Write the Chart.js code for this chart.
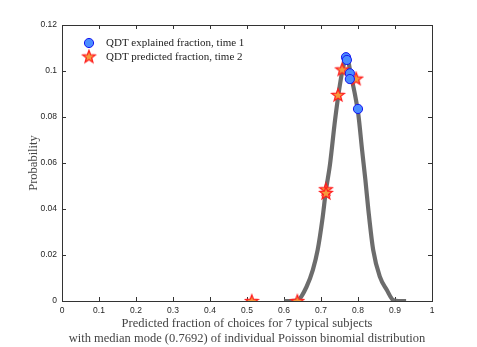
<!DOCTYPE html>
<html>
<head>
<meta charset="utf-8">
<script src="https://cdn.jsdelivr.net/npm/chart.js@4/dist/chart.umd.min.js"></script>
<style>
html,body{margin:0;padding:0;background:#fff;}
#c{display:block;}
</style>
</head>
<body>
<canvas id="c" width="477" height="347"></canvas>
<script>
// ---- data ----
const curveX = [0.60,0.62,0.638,0.661,0.678,0.691,0.7035,0.7135,0.724,0.738,0.751,0.759,0.7695,0.781,0.792,0.801,0.811,0.820,0.828,0.841,0.859,0.878,0.895,0.91,0.93];
const curveY = [0,0,0.0004,0.0062,0.0135,0.0222,0.0352,0.0483,0.059,0.0787,0.0939,0.101,0.1065,0.098,0.0896,0.081,0.0657,0.0526,0.0396,0.0222,0.0106,0.0048,0.0004,0,0];
const explainedX = [0.7676,0.770,0.778,0.778,0.800];
const explainedY = [0.106,0.1048,0.099,0.0965,0.0835];
const predictedX = [0.757,0.795,0.746,0.7135,0.7135,0.513,0.636];
const predictedY = [0.1007,0.0967,0.0896,0.0486,0.047,0,0];
const xTicks = [0,0.1,0.2,0.3,0.4,0.5,0.6,0.7,0.8,0.9,1];
const yTicks = [0,0.02,0.04,0.06,0.08,0.1,0.12];
const seriesLabels = ['QDT explained fraction, time 1','QDT predicted fraction, time 2'];
const xTitle = ['Predicted fraction of choices for 7 typical subjects','with median mode (0.7692) of individual Poisson binomial distribution'];
const yTitle = 'Probability';

const pts = (xs, ys) => xs.map((x, i) => ({x: x, y: ys[i]}));

// star marker image
function makeStar() {
  const s = 16, c = document.createElement('canvas');
  c.width = s; c.height = s;
  const g = c.getContext('2d');
  const cx = s/2, cy = s/2 + 0.5, R = 6.6, r = 2.8;
  g.beginPath();
  for (let i = 0; i < 10; i++) {
    const a = -Math.PI/2 + i*Math.PI/5;
    const rad = i % 2 === 0 ? R : r;
    const px = cx + rad*Math.cos(a), py = cy + rad*Math.sin(a);
    if (i === 0) g.moveTo(px, py); else g.lineTo(px, py);
  }
  g.closePath();
  g.fillStyle = '#f59a3c';
  g.fill();
  g.lineWidth = 1.3;
  g.strokeStyle = '#ff1e1e';
  g.stroke();
  return c;
}
const starImg = makeStar();

const LEFT = 62, RIGHT = 432, TOP = 25, BOTTOM = 301;

const frame = {
  id: 'frame',
  beforeDatasetsDraw(chart) {
    const ctx = chart.ctx, a = chart.chartArea;
    const xs = chart.scales.x, ys = chart.scales.y;
    ctx.save();
    ctx.strokeStyle = '#333';
    ctx.lineWidth = 1;
    ctx.strokeRect(Math.round(a.left)+0.5, Math.round(a.top)+0.5, Math.round(a.right-a.left), Math.round(a.bottom-a.top));
    ctx.beginPath();
    const tl = 4;
    xTicks.forEach(v => {
      const p = Math.round(xs.getPixelForValue(v)) + 0.5;
      ctx.moveTo(p, a.bottom); ctx.lineTo(p, a.bottom - tl);
      ctx.moveTo(p, a.top); ctx.lineTo(p, a.top + tl);
    });
    yTicks.forEach(v => {
      const p = Math.round(ys.getPixelForValue(v)) + 0.5;
      ctx.moveTo(a.left, p); ctx.lineTo(a.left + tl, p);
      ctx.moveTo(a.right, p); ctx.lineTo(a.right - tl, p);
    });
    ctx.stroke();
    ctx.restore();
  },
  afterDraw(chart) {
    const ctx = chart.ctx;
    ctx.save();
    // legend
    ctx.font = '11px "Liberation Serif", serif';
    ctx.fillStyle = '#222';
    ctx.textBaseline = 'middle';
    const lx = 89, ly = [43, 57];
    ctx.beginPath();
    ctx.arc(lx, ly[0], 4.6, 0, Math.PI*2);
    ctx.fillStyle = '#4a8cff';
    ctx.fill();
    ctx.lineWidth = 1;
    ctx.strokeStyle = '#1414f0';
    ctx.stroke();
    ctx.drawImage(starImg, lx - 8, ly[1] - 8.5);
    ctx.fillStyle = '#222';
    ctx.fillText(seriesLabels[0], 106, ly[0] + 0.5);
    ctx.fillText(seriesLabels[1], 106, ly[1] + 0.5);
    // x title
    ctx.font = '12.5px "Liberation Serif", serif';
    ctx.fillStyle = '#444';
    ctx.textAlign = 'center';
    ctx.textBaseline = 'alphabetic';
    const cx = (chart.chartArea.left + chart.chartArea.right)/2;
    ctx.fillText(xTitle[0], cx, 327);
    ctx.fillText(xTitle[1], cx, 342);
    // y title
    ctx.translate(37, (chart.chartArea.top + chart.chartArea.bottom)/2);
    ctx.rotate(-Math.PI/2);
    ctx.fillText(yTitle, 0, 0);
    ctx.restore();
  }
};

new Chart(document.getElementById('c'), {
  type: 'scatter',
  data: {
    datasets: [
      {
        label: seriesLabels[0],
        data: pts(explainedX, explainedY),
        pointStyle: 'circle',
        pointRadius: 4.6,
        pointBackgroundColor: '#4a8cff',
        pointBorderColor: '#1414f0',
        pointBorderWidth: 1,
        order: 1
      },
      {
        label: seriesLabels[1],
        data: pts(predictedX, predictedY),
        pointStyle: starImg,
        pointRadius: 7,
        order: 2
      },
      {
        label: 'curve',
        data: pts(curveX, curveY),
        showLine: true,
        pointRadius: 0,
        borderColor: 'rgba(100,100,100,0.95)',
        borderWidth: 4.2,
        cubicInterpolationMode: 'monotone',
        fill: false,
        order: 3
      }
    ]
  },
  options: {
    responsive: false,
    animation: false,
    events: [],
    layout: { padding: { top: TOP, right: 477 - RIGHT, left: 0, bottom: 0 } },
    plugins: { legend: { display: false }, tooltip: { enabled: false } },
    scales: {
      x: {
        type: 'linear', min: 0, max: 1,
        afterBuildTicks: s => { s.ticks = xTicks.map(v => ({value: v})); },
        afterFit: s => { s.height = 347 - BOTTOM; },
        grid: { display: false, drawTicks: false, tickLength: 0 },
        border: { display: false },
        ticks: {
          padding: 5,
          maxRotation: 0,
          autoSkip: false,
          color: '#262626',
          font: { family: '"Liberation Sans", Arial, sans-serif', size: 8.5 },
          callback: v => String(Math.round(v*10)/10)
        }
      },
      y: {
        type: 'linear', min: 0, max: 0.12,
        afterBuildTicks: s => { s.ticks = yTicks.map(v => ({value: v})); },
        afterFit: s => { s.width = LEFT; },
        grid: { display: false, drawTicks: false, tickLength: 0 },
        border: { display: false },
        ticks: {
          padding: 5,
          autoSkip: false,
          color: '#262626',
          font: { family: '"Liberation Sans", Arial, sans-serif', size: 8.5 },
          callback: v => String(Math.round(v*100)/100)
        }
      }
    }
  },
  plugins: [frame]
});
</script>
</body>
</html>
